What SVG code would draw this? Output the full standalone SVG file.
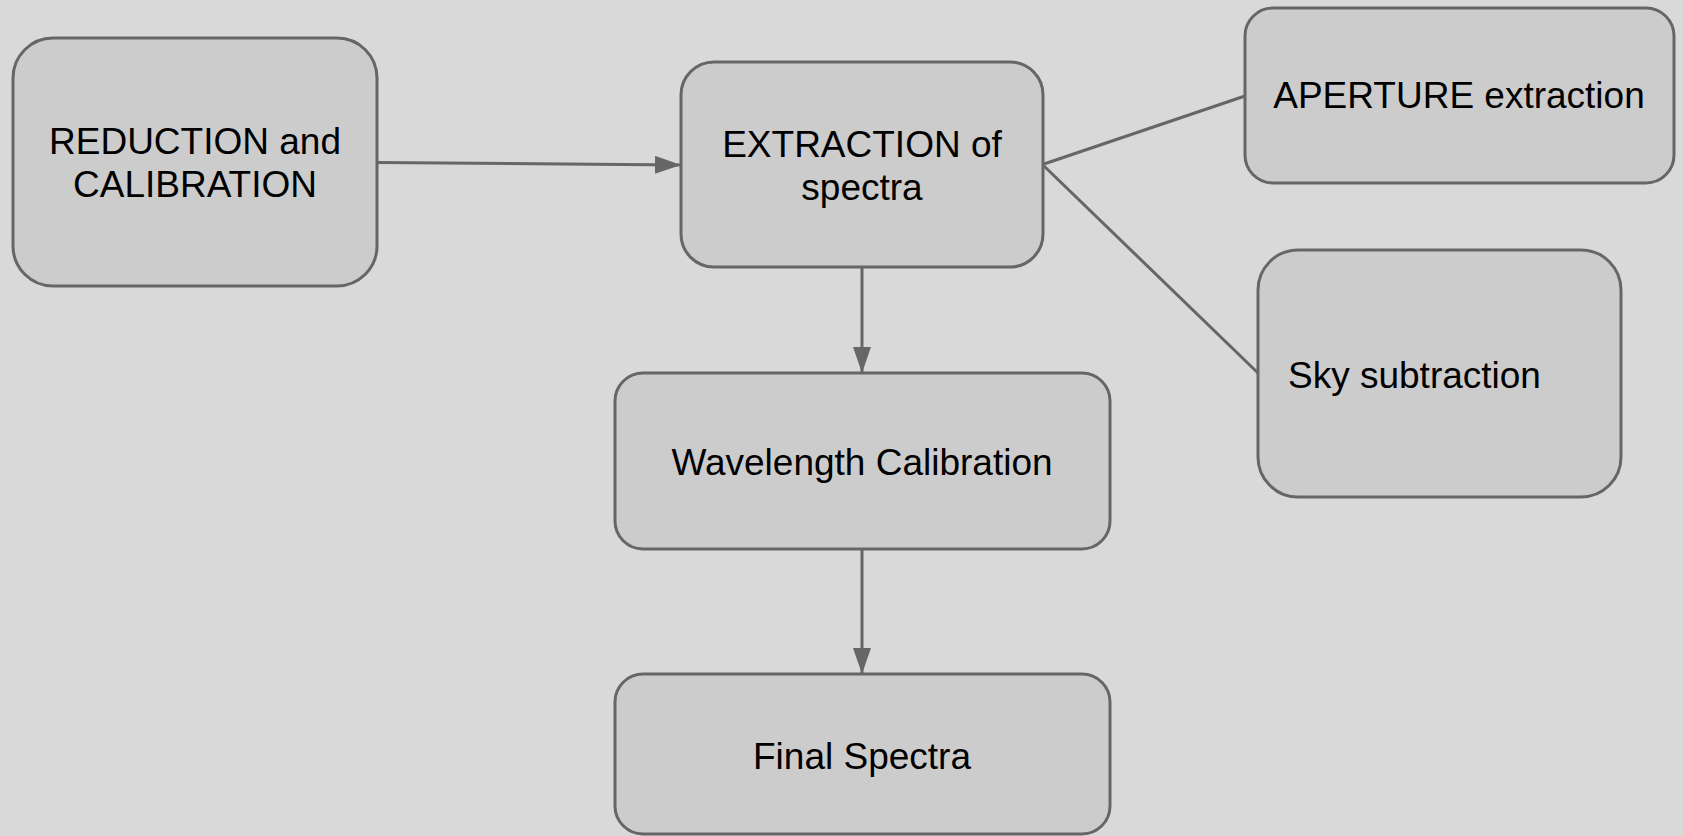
<svg xmlns="http://www.w3.org/2000/svg" width="1683" height="836" viewBox="0 0 1683 836">
<defs>
<style>
.box{fill:#cccccc;stroke:#666666;stroke-width:3}
.lbl{font-family:"Liberation Sans",Arial,sans-serif;font-size:37px;fill:#000000}
.c{text-anchor:middle}
.edge{stroke:#666666;stroke-width:3;fill:none}
</style>
<marker id="arr" markerUnits="userSpaceOnUse" markerWidth="26" markerHeight="20" refX="26" refY="9" orient="auto">
<path d="M0,0 L26,9 L0,18 Z" fill="#666666"/>
</marker>
</defs>
<rect width="1683" height="836" fill="#d9d9d9"/>
<g id="connectors">
<line class="edge" x1="377" y1="162.5" x2="681" y2="165" marker-end="url(#arr)"/>
<line class="edge" x1="1044" y1="164" x2="1245" y2="96"/>
<line class="edge" x1="1044" y1="166" x2="1258" y2="373"/>
<line class="edge" x1="862" y1="267" x2="862" y2="373" marker-end="url(#arr)"/>
<line class="edge" x1="862" y1="549" x2="862" y2="674" marker-end="url(#arr)"/>
</g>
<g id="reduction">
<rect class="box" x="13" y="38" width="364" height="248" rx="40" ry="40"/>
<text class="lbl c" x="195" y="154">REDUCTION and</text>
<text class="lbl c" x="195" y="197">CALIBRATION</text>
</g>
<g id="extraction">
<rect class="box" x="681" y="62" width="362" height="205" rx="33" ry="33"/>
<text class="lbl c" x="862" y="157">EXTRACTION of</text>
<text class="lbl c" x="862" y="200">spectra</text>
</g>
<g id="aperture">
<rect class="box" x="1245" y="8" width="429" height="175" rx="28" ry="28"/>
<text class="lbl c" x="1459" y="108">APERTURE extraction</text>
</g>
<g id="sky">
<rect class="box" x="1258" y="250" width="363" height="247" rx="40" ry="40"/>
<text class="lbl" x="1288" y="388">Sky subtraction</text>
</g>
<g id="wavelength">
<rect class="box" x="615" y="373" width="495" height="176" rx="28" ry="28"/>
<text class="lbl c" x="862" y="475">Wavelength Calibration</text>
</g>
<g id="final">
<rect class="box" x="615" y="674" width="495" height="160" rx="28" ry="28"/>
<text class="lbl c" x="862" y="769">Final Spectra</text>
</g>
</svg>
